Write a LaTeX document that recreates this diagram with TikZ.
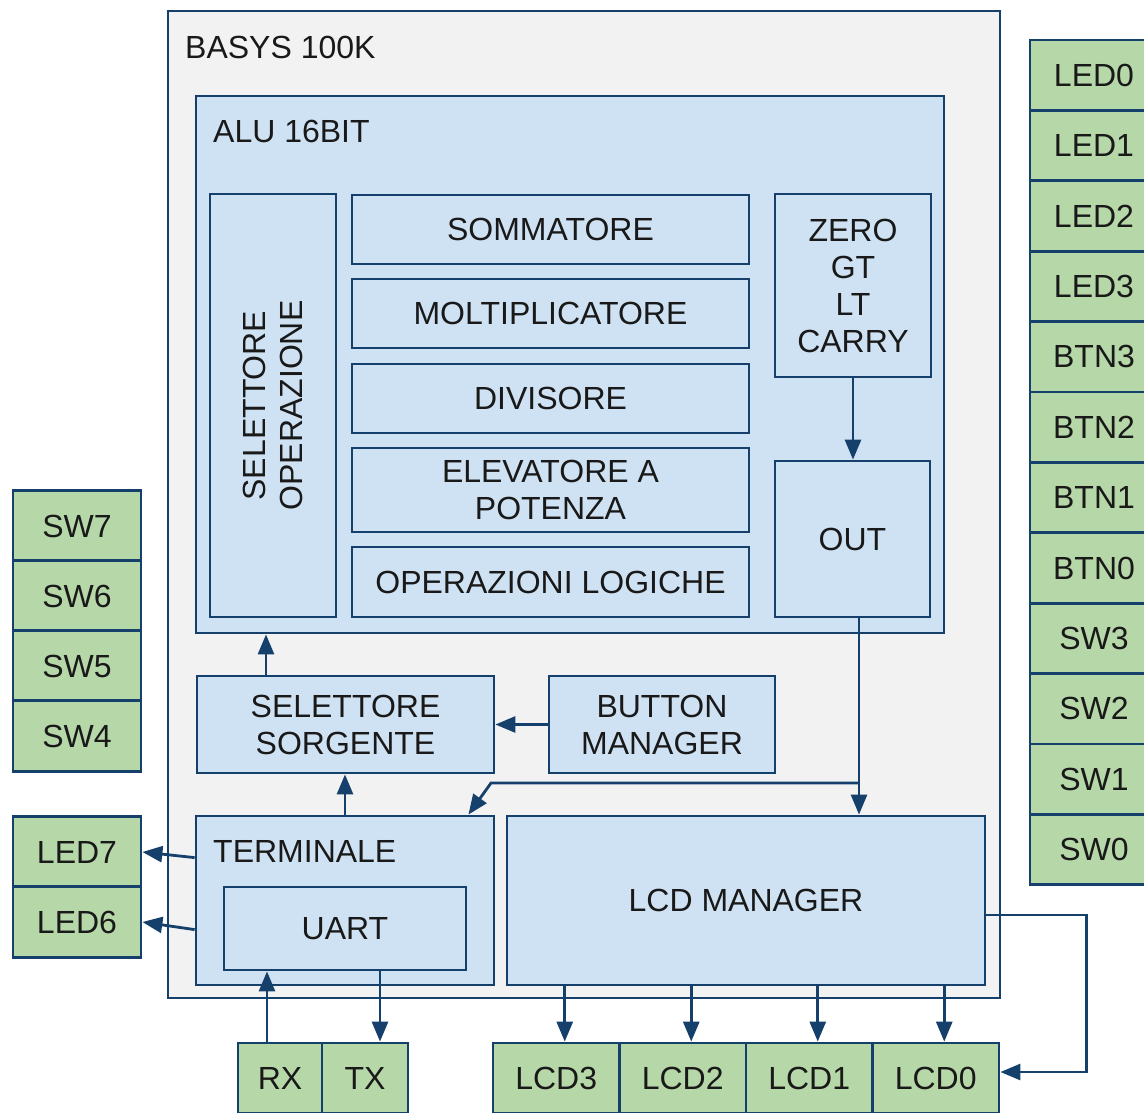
\documentclass[tikz,border=0pt]{standalone}
\usepackage{fontspec}
\setmainfont{Liberation Sans}
\usetikzlibrary{arrows.meta,positioning,calc}
\definecolor{edgeblue}{RGB}{22,64,108}
\definecolor{boxblue}{RGB}{207,226,243}
\definecolor{boxgreen}{RGB}{182,215,168}
\definecolor{boardgrey}{RGB}{242,242,242}
\definecolor{inkcolor}{RGB}{25,25,25}
\tikzset{
  blk/.style={draw=edgeblue, line width=2.8pt, fill=boxblue, text=inkcolor, align=center, inner sep=0pt},
  iobox/.style={draw=edgeblue, line width=2.8pt, fill=boxgreen, text=inkcolor, minimum width=128pt, minimum height=70.4pt, inner sep=0pt},
  arr/.style={draw=edgeblue, line width=2.8pt, -{Triangle[width=16pt,length=20pt]}},
  lbl/.style={text=inkcolor, anchor=west, inner sep=0pt}
}

\begin{document}
\begin{tikzpicture}[x=1pt, y=-1pt, font=\fontsize{32}{37}\selectfont]
  \useasboundingbox (0,0) rectangle (1144,1112);
  \clip (0,0) rectangle (1144,1112);
  % Board
  \node[blk, fill=boardgrey, minimum width=832pt, minimum height=987pt] (board) at (584,504.5) {};
  \node[lbl] (boardname) at (185,47) {BASYS 100K};
  % ALU
  \node[blk, minimum width=748pt, minimum height=537pt] (alu) at (570,364.5) {};
  \node[lbl] (aluname) at (213,131) {ALU 16BIT};
  \node[blk, rotate=90, minimum width=423pt, minimum height=126pt] (selop) at (273,405.5) {SELETTORE\\OPERAZIONE};
  \foreach \nm/\cy/\boxh/\txt in {somm/229.5/69/SOMMATORE, molt/313.5/69/MOLTIPLICATORE, divi/398.5/69/DIVISORE, elev/490/84/{ELEVATORE A\\POTENZA}, logi/582/70/OPERAZIONI LOGICHE}
    \node[blk, minimum width=397pt, minimum height=\boxh pt] (\nm) at (550.5,\cy) {\txt};
  \node[blk, minimum width=156pt, minimum height=183pt] (flags) at (853,285.5) {ZERO\\GT\\LT\\CARRY};
  \node[blk, minimum width=155pt, minimum height=156pt] (out) at (852.5,539) {OUT};
  \draw[arr] (flags.south) -- (flags.south |- out.north);
  % Sources and managers
  \node[blk, minimum width=297pt, minimum height=97pt] (selsrc) at (345.5,724.5) {SELETTORE\\SORGENTE};
  \node[blk, minimum width=226pt, minimum height=97pt] (btnmgr) at (662,724.5) {BUTTON\\MANAGER};
  \node[blk, minimum width=298pt, minimum height=169pt] (term) at (345,900.5) {};
  \node[lbl] (termname) at (213,851) {TERMINALE};
  \node[blk, minimum width=242pt, minimum height=83pt] (uart) at (345,928.5) {UART};
  \node[blk, minimum width=478pt, minimum height=169pt] (lcdmgr) at (746,900.5) {LCD MANAGER};
  % Left IO
  \foreach \nm/\cy/\txt in {sw7/526/SW7, sw6/596/SW6, sw5/666/SW5, sw4/736/SW4, led7/852/LED7, led6/922/LED6}
    \node[iobox] (\nm) at (77,\cy) {\txt};
  % Right IO
  \foreach \nm [count=\i from 0] in {LED0,LED1,LED2,LED3,BTN3,BTN2,BTN1,BTN0,SW3,SW2,SW1,SW0}
    \node[iobox] (r\nm) at (1094,{75.2+70.4*\i}) {\nm};
  % Bottom IO
  \node[iobox, minimum width=84pt, minimum height=70pt] (rx) at (280,1078) {RX};
  \node[iobox, minimum width=86pt, minimum height=70pt] (tx) at (365,1078) {TX};
  \foreach \nm/\cx in {LCD3/556.25, LCD2/682.75, LCD1/809.25, LCD0/935.75}
    \node[iobox, minimum width=126.5pt, minimum height=70pt] (\nm) at (\cx,1078) {\nm};
  % Connections
  \draw[arr] ([xshift=-79.5pt]selsrc.north) -- ([xshift=-79.5pt]selsrc.north |- alu.south);
  \draw[arr] (btnmgr) -- (selsrc);
  \draw[arr] (term.north) -- (term.north |- selsrc.south);
  \draw[arr] ([xshift=6.5pt]out.south) -- ([xshift=6.5pt]out.south |- lcdmgr.north);
  \coordinate (split) at (859,783);
  \coordinate (bend) at (491,783);
  \draw[arr] (split) -- (bend) -- ([xshift=-27pt]term.north east);
  \draw[arr] ([yshift=-43pt]term.north west) -- (led7.east);
  \draw[arr] ([yshift=-115pt]term.north west) -- (led6.east);
  \draw[arr] ([xshift=-13pt]rx.north) -- ([xshift=-13pt]rx.north |- uart.south);
  \draw[arr] ([xshift=15pt]tx.north |- uart.south) -- ([xshift=15pt]tx.north);
  \foreach \nm in {LCD3,LCD2,LCD1,LCD0}
    \draw[arr] ([xshift=8.5pt]\nm.north |- lcdmgr.south) -- ([xshift=8.5pt]\nm.north);
  \draw[arr] ([yshift=-14.5pt]lcdmgr.east) -- ++(100pt,0) |- ([yshift=6pt]LCD0.east);
\end{tikzpicture}
\end{document}
